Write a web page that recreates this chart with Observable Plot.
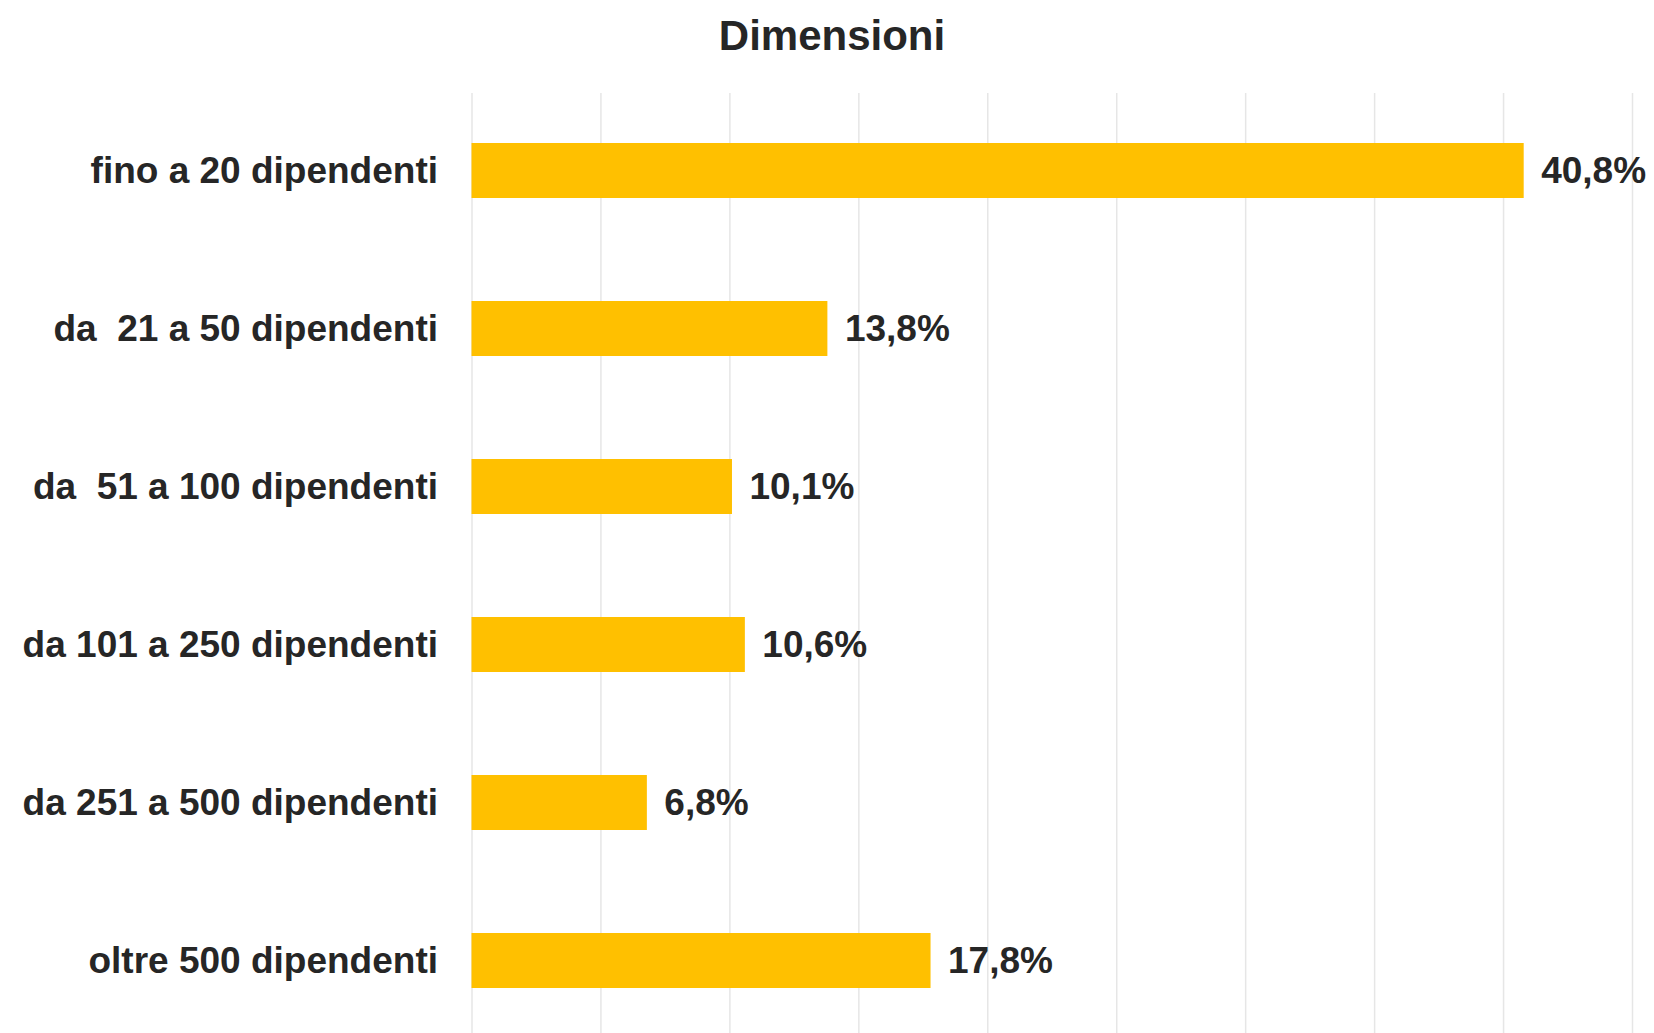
<!DOCTYPE html>
<html>
<head>
<meta charset="utf-8">
<script src="https://cdn.jsdelivr.net/npm/d3@7"></script>
<script src="https://cdn.jsdelivr.net/npm/@observablehq/plot@0.6"></script>
<style>
  html, body { margin: 0; padding: 0; background: #fff; }
  body { width: 1654px; height: 1033px; overflow: hidden; font-family: "Liberation Sans", Arial, sans-serif; }
  #title { position: relative; height: 80px; }
  #title span { position: absolute; left: 0; width: 1664px; top: 14.5px; text-align: center; font-size: 42px; line-height: 42px; font-weight: bold; color: #262626; }
  #chart svg text { white-space: pre; }
</style>
</head>
<body>
<div id="title"><span>Dimensioni</span></div>
<div id="chart"></div>
<script>
const categories = ["fino a 20 dipendenti", "da  21 a 50 dipendenti", "da  51 a 100 dipendenti", "da 101 a 250 dipendenti", "da 251 a 500 dipendenti", "oltre 500 dipendenti"];
const values = [40.8, 13.8, 10.1, 10.6, 6.8, 17.8];
const gridTicks = [0, 5, 10, 15, 20, 25, 30, 35, 40, 45];

const data = categories.map((c, i) => ({category: c, value: values[i]}));
const fmt = v => v.toFixed(1).replace(".", ",") + "%";

const plot = Plot.plot({
  width: 1654,
  height: 953,
  marginLeft: 471.5,
  marginRight: 22,
  marginTop: 13,
  marginBottom: 0,
  style: {fontFamily: "'Liberation Sans', Arial, sans-serif", color: "#262626", background: "#fff"},
  x: {domain: [0, 45], axis: null},
  y: {domain: categories, range: [9.5, 962], paddingInner: 0.65, paddingOuter: 0.325, label: null},
  marks: [
    Plot.ruleX(gridTicks, {stroke: "#e6e6e6", strokeWidth: 1.5}),
    Plot.barX(data, {x: "value", y: "category", fill: "#FFC000"}),
    Plot.text(data, {x: "value", y: "category", text: d => fmt(d.value), textAnchor: "start", dx: 17, fontSize: 37, fontWeight: "bold", fill: "#262626"}),
    Plot.axisY({tickSize: 0, tickPadding: 34, fontSize: 37, fontWeight: "bold", label: null, fill: "#262626"})
  ]
});
document.getElementById("chart").appendChild(plot);
</script>
</body>
</html>
